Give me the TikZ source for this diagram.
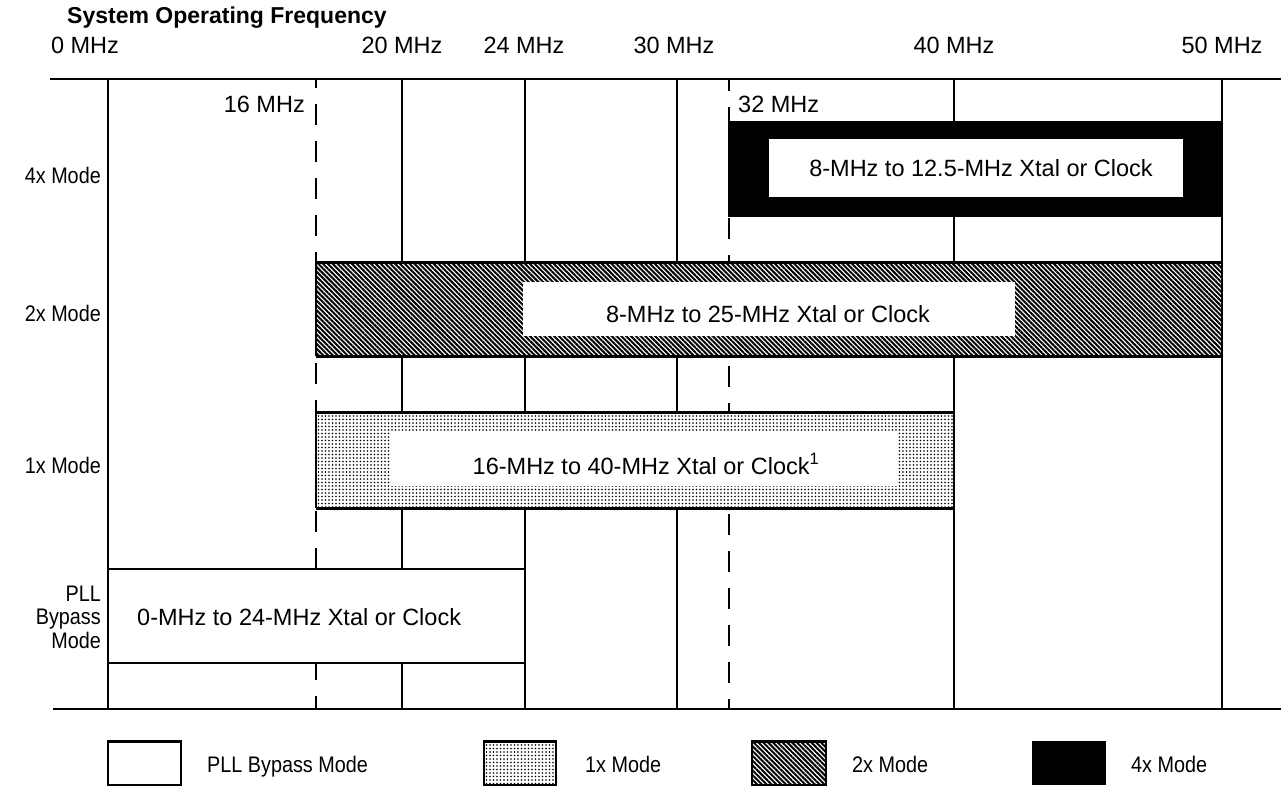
\documentclass[tikz,border=0pt]{standalone}
\usepackage{fontspec}
\setmainfont{Liberation Sans}
\newfontfamily\narrowsans[FakeStretch=0.88]{Liberation Sans}
\usetikzlibrary{patterns.meta}
\begin{document}
\begin{tikzpicture}[x=1pt,y=-1pt,
  lbl/.style={font=\fontsize{23.5}{26}\selectfont, inner sep=0pt},
  sml/.style={font=\narrowsans\fontsize{22.5}{23.5}\selectfont, inner sep=0pt},
  gridline/.style={line width=1.6pt},
  dashgrid/.style={line width=2.6pt, dash pattern=on 21pt off 16pt},
  barrule/.style={line width=3pt},
  twoxfill/.style={pattern={Lines[angle=-45,distance=3.4pt,line width=2pt]}},
  onexfill/.style={pattern={Dots[distance=3.5pt,radius=0.85pt]}},
  ]
\useasboundingbox (0,0) rectangle (1281,787);
% vertical grid lines
\draw[gridline] (108,79) -- (108,709);
\draw[gridline] (402,79) -- (402,709);
\draw[gridline] (525,79) -- (525,709);
\draw[line width=2.4pt] (677,79) -- (677,709);
\draw[gridline] (954,79) -- (954,709);
\draw[gridline] (1222,79) -- (1222,709);
\draw[dashgrid, dash phase=12pt] (316,79) -- (316,709);
\draw[dashgrid, dash phase=9pt] (729,79) -- (729,709);
% 4x bar
\fill[black] (727.5,121) rectangle (1222,217);
\fill[white] (769,139) rectangle (1183,197);
% 2x bar
\fill[white] (316,262) rectangle (1222,356);
\fill[twoxfill] (316,262) rectangle (1222,356);
\fill[white] (523,282) rectangle (1015,336);
\draw[barrule] (316,262) -- (1222,262);
\draw[barrule] (316,356) -- (1222,356);
\draw[line width=2.6pt] (316,262) -- (316,356);
\draw[gridline] (1222,262) -- (1222,356);
% 1x bar
\fill[white] (316,412) rectangle (954,508);
\fill[onexfill] (316,412) rectangle (954,508);
\fill[white] (390,432) rectangle (898,486);
\draw[barrule] (316,412) -- (954,412);
\draw[barrule] (316,508) -- (954,508);
\draw[line width=2.6pt] (316,412) -- (316,508);
\draw[gridline] (954,412) -- (954,508);
% PLL bypass box
\draw[line width=1.8pt, fill=white] (108,569) rectangle (525,663);
% axis rules
\draw[line width=2pt] (50,79) -- (1281,79);
\draw[line width=2.4pt] (53,709) -- (1281,709);
% title and scale labels
\node[anchor=base west, inner sep=0pt, font=\bfseries\fontsize{23}{26}\selectfont] (title) at (67,23) {System Operating Frequency};
\node[lbl, anchor=base] (f0) at (85,53) {0 MHz};
\node[lbl, anchor=base] (f20) at (402,53) {20 MHz};
\node[lbl, anchor=base] (f24) at (524,53) {24 MHz};
\node[lbl, anchor=base] (f30) at (674,53) {30 MHz};
\node[lbl, anchor=base] (f40) at (954,53) {40 MHz};
\node[lbl, anchor=base] (f50) at (1222,53) {50 MHz};
\node[lbl, anchor=base east] (f16) at (305,112) {16 MHz};
\node[lbl, anchor=base west] (f32) at (738,112) {32 MHz};
% row labels
\node[sml, anchor=base east] (r4) at (101,183) {4x Mode};
\node[sml, anchor=base east] (r2) at (101,321) {2x Mode};
\node[sml, anchor=base east] (r1) at (101,473) {1x Mode};
\node[sml, anchor=base east] (rp1) at (101,601) {PLL};
\node[sml, anchor=base east] (rp2) at (101,624) {Bypass};
\node[sml, anchor=base east] (rp3) at (101,648) {Mode};
% bar texts
\node[lbl, anchor=base] (t4) at (981,176) {8-MHz to 12.5-MHz Xtal or Clock};
\node[lbl, anchor=base] (t2) at (768,322) {8-MHz to 25-MHz Xtal or Clock};
\node[lbl, anchor=base] (t1) at (646,474) {16-MHz to 40-MHz Xtal or Clock\textsuperscript{1}};
\node[lbl, anchor=base west] (tp) at (137,625) {0-MHz to 24-MHz Xtal or Clock};
% legend
\draw[line width=1.5pt, fill=white] (108,741) rectangle (181,785);
\draw[barrule] (108,741) -- (181,741);
\node[sml, anchor=base west] (lp) at (207,772) {PLL Bypass Mode};
\fill[white] (484,741) rectangle (556,785);
\fill[onexfill] (484,741) rectangle (556,785);
\draw[line width=1.5pt] (484,741) rectangle (556,785);
\draw[barrule] (484,741) -- (556,741);
\node[sml, anchor=base west] (l1) at (585,772) {1x Mode};
\fill[white] (752,741) rectangle (826,785);
\fill[twoxfill] (752,741) rectangle (826,785);
\draw[line width=1.5pt] (752,741) rectangle (826,785);
\draw[barrule] (752,741) -- (826,741);
\node[sml, anchor=base west] (l2) at (852,772) {2x Mode};
\fill[black] (1032,741) rectangle (1106,785);
\node[sml, anchor=base west] (l4) at (1131,772) {4x Mode};
\end{tikzpicture}
\end{document}
